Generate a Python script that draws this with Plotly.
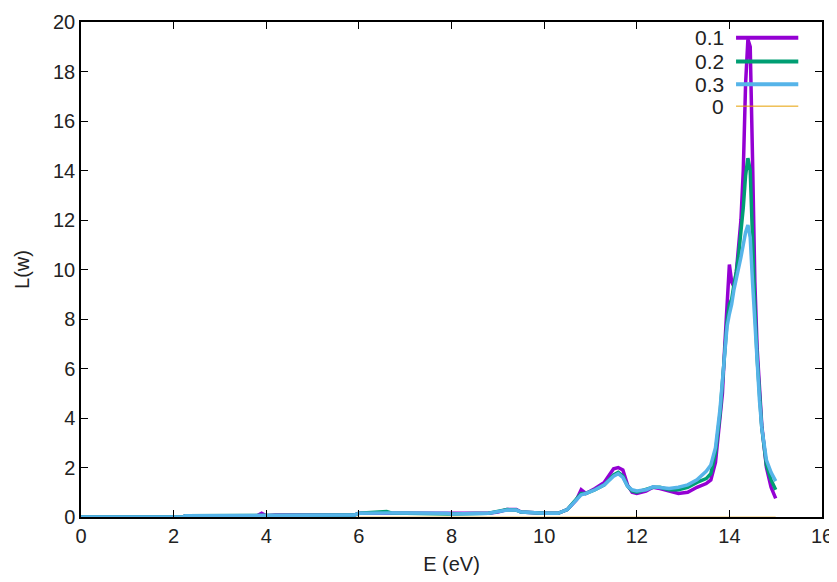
import plotly.graph_objects as go

E = [0, 2.2, 2.25, 3.8, 3.9, 4.0, 4.2, 5.9, 6.0, 6.5, 6.6, 6.7, 7.9, 8.0, 8.8, 9.0, 9.2, 9.4, 9.5,
     10.0, 10.3, 10.5, 10.7, 10.8, 10.9, 11.1, 11.3, 11.5, 11.6, 11.7, 11.8, 11.9, 12.0, 12.2, 12.35,
     12.5, 12.7, 12.9, 13.1, 13.3, 13.5, 13.6, 13.7, 13.8, 13.85, 13.9, 13.95, 14.0, 14.05, 14.1,
     14.15, 14.2, 14.25, 14.3, 14.35, 14.4, 14.45, 14.5, 14.55, 14.6, 14.65, 14.7, 14.8, 14.9, 15.0]

L_01 = [0.0, 0.0, 0.05, 0.05, 0.15, 0.05, 0.08, 0.08, 0.15, 0.15, 0.15, 0.15, 0.15, 0.12, 0.15, 0.2,
        0.3, 0.3, 0.2, 0.15, 0.15, 0.3, 0.7, 1.1, 0.95, 1.15, 1.4, 1.95, 2.0, 1.9, 1.3, 1.0, 0.95,
        1.05, 1.2, 1.15, 1.05, 0.95, 1.0, 1.2, 1.35, 1.5, 2.2, 3.9, 5.0, 6.9, 8.5, 10.2, 9.5, 9.3,
        9.9, 10.8, 12.0, 14.0, 17.5, 19.3, 19.0, 14.5, 9.5, 6.8, 5.0, 3.7, 2.0, 1.2, 0.75]

L_02 = [0.0, 0.0, 0.05, 0.05, 0.08, 0.06, 0.08, 0.08, 0.15, 0.18, 0.22, 0.16, 0.15, 0.12, 0.15, 0.22,
        0.3, 0.28, 0.2, 0.15, 0.15, 0.3, 0.7, 0.95, 0.95, 1.1, 1.3, 1.7, 1.8, 1.65, 1.25, 1.05, 1.0,
        1.1, 1.2, 1.2, 1.1, 1.1, 1.2, 1.4, 1.55, 1.75, 2.6, 4.2, 5.5, 6.8, 7.9, 8.6, 8.8, 9.4,
        9.9, 10.6, 11.5, 12.5, 13.8, 14.5, 14.0, 11.0, 8.5, 6.4, 4.8, 3.6, 2.1, 1.5, 1.1]

L_03 = [0.0, 0.0, 0.05, 0.05, 0.08, 0.06, 0.08, 0.08, 0.15, 0.16, 0.17, 0.16, 0.15, 0.12, 0.15, 0.22,
        0.28, 0.28, 0.2, 0.15, 0.15, 0.3, 0.7, 0.9, 0.95, 1.1, 1.3, 1.65, 1.75, 1.6, 1.25, 1.1, 1.05,
        1.1, 1.22, 1.2, 1.15, 1.2, 1.3, 1.5, 1.85, 2.1, 2.8, 4.4, 5.6, 6.8, 7.7, 8.2, 8.6, 9.2,
        9.6, 10.0, 10.5, 11.0, 11.5, 11.8, 11.3, 9.5, 7.8, 6.0, 4.7, 3.6, 2.3, 1.8, 1.45]

L_0 = [0.0] * len(E)

series_names = ["0.1", "0.2", "0.3", "0"]
series_colors = ["#9400D3", "#009E73", "#56B4E9", "#E69F00"]
series_widths = [3.5, 3.5, 3.5, 1]

xticks = [0, 2, 4, 6, 8, 10, 12, 14, 16]
yticks = [0, 2, 4, 6, 8, 10, 12, 14, 16, 18, 20]

fig = go.Figure()
# zero series drawn first (underneath everything, hidden by the axis line)
fig.add_trace(go.Scatter(x=E, y=L_0, mode="lines", name=series_names[3],
                         line=dict(color=series_colors[3], width=0.6)))
for name, ys, col, w in zip(series_names[:3], [L_01, L_02, L_03], series_colors[:3], series_widths[:3]):
    fig.add_trace(go.Scatter(x=E, y=ys, mode="lines", name=name,
                             line=dict(color=col, width=w)))

font = dict(family="Liberation Sans, Arial, sans-serif", size=20, color="#222222")

# gnuplot-style legend: label on left, sample line on right
leg_y = [0.968, 0.920, 0.874, 0.830]
for name, col, w, yy in zip(series_names, series_colors, series_widths, leg_y):
    fig.add_annotation(x=0.871, y=yy, xref="paper", yref="paper", text=name, showarrow=False,
                       xanchor="right", yanchor="middle",
                       font=dict(family=font["family"], size=21, color="#222222"))
    fig.add_shape(type="line", xref="paper", yref="paper", x0=0.884, x1=0.968, y0=yy, y1=yy,
                  line=dict(color=col, width=w + 0.5 if w > 1 else 1))

axis_common = dict(showline=True, linecolor="black", linewidth=1.5, mirror="ticks", ticks="inside",
                   ticklen=7, tickcolor="black", showgrid=False, zeroline=False, tickfont=font,
                   automargin=False, layer="above traces")
fig.update_xaxes(range=[0, 16], tickvals=xticks, title=dict(text="E (eV)", font=font, standoff=11), **axis_common)
fig.update_yaxes(range=[0, 20], tickvals=yticks, title=dict(text="L(w)", font=font, standoff=18), **axis_common)

# page body has an 8px margin, so shift the plot area to land where the reference has it
fig.update_layout(width=837, height=582, margin=dict(l=73, r=23, t=14, b=73),
                  plot_bgcolor="white", paper_bgcolor="white", showlegend=False)

fig.write_html("out.html")
